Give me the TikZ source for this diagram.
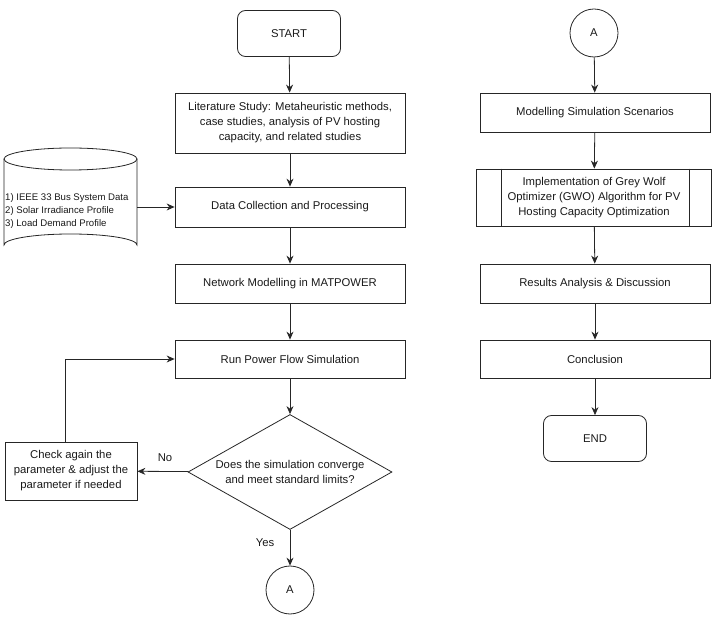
\documentclass[tikz,border=0pt]{standalone}
\usepackage{fontspec}
\setmainfont{Liberation Sans}
\usetikzlibrary{arrows.meta,shapes.geometric}
\begin{document}
\begin{tikzpicture}[x=1pt,y=-1pt,
  every node/.style={font=\fontsize{11.3}{15}\selectfont, text=black!90},
  box/.style={draw=black!85, line width=0.8pt, rectangle, minimum width=230pt, align=center, inner sep=0pt},
  term/.style={draw=black!85, line width=0.8pt, rectangle, rounded corners=8pt, minimum width=103pt, minimum height=46pt},
  conn/.style={draw=black!85, line width=0.8pt, circle, minimum size=48pt, inner sep=0pt},
  arr/.style={draw=black!85, line width=0.8pt, -{Stealth[length=8pt,width=7pt]}},
  lbl/.style={font=\fontsize{11.3}{13}\selectfont}]
\useasboundingbox (0,0) rectangle (716,628);
% left column
\node[term] (start) at (289,33.5) {START};
\node[box, minimum height=60pt] (lit) at (290,123) {Literature Study: Metaheuristic methods,\\case studies, analysis of PV hosting\\capacity, and related studies};
\node[box, minimum height=40pt] (data) at (290,207) {Data Collection and Processing};
\node[box, minimum height=39pt] (net) at (290,283.5) {Network Modelling in MATPOWER};
\node[box, minimum height=38pt] (run) at (290,359) {Run Power Flow Simulation};
\node[diamond, draw=black!85, line width=0.8pt, aspect=1.77, minimum width=204pt, minimum height=115pt, inner sep=0pt, align=center] (dec) at (290,472) {Does the simulation converge\\and meet standard limits?};
\node[box, minimum width=132pt, minimum height=58pt] (chk) at (71,471) {Check again the\\parameter \& adjust the\\parameter if needed};
\node[conn] (a1) at (290,590) {A};
% cylinder
\node[minimum width=133.5pt, minimum height=108pt, inner sep=0pt] (db) at (70.5,202) {};
\draw[black!85, line width=0.8pt] (70.5,159) ellipse [x radius=66.5, y radius=11];
\draw[black!85, line width=0.8pt] (4,159) -- (4,245) arc[start angle=180, end angle=360, x radius=66.5, y radius=11] -- (137,159);
\node[anchor=west, align=left, font=\fontsize{9.6}{13}\selectfont, inner sep=0pt] (dbtxt) at (5,211) {1) IEEE 33 Bus System Data\\2) Solar Irradiance Profile\\3) Load Demand Profile};
% right column
\node[conn] (a2) at (594,33) {A};
\node[box, minimum height=39pt] (mod) at (595,112.5) {Modelling Simulation Scenarios};
\node[box, minimum width=235pt, minimum height=57pt] (gwo) at (594,197.5) {Implementation of Grey Wolf\\Optimizer (GWO) Algorithm for PV\\Hosting Capacity Optimization};
\draw[black!85, line width=0.8pt] ([xshift=25pt]gwo.north west) -- ([xshift=25pt]gwo.south west);
\draw[black!85, line width=0.8pt] ([xshift=-23pt]gwo.north east) -- ([xshift=-23pt]gwo.south east);
\node[box, minimum height=39pt] (res) at (595,283.5) {Results Analysis \& Discussion};
\node[box, minimum height=38pt] (con) at (595,359) {Conclusion};
\node[term] (end) at (595,438.5) {END};
% connectors
\draw[arr] (start) -- (lit);
\draw[arr] (lit) -- (data);
\draw[arr] (data) -- (net);
\draw[arr] (net) -- (run);
\draw[arr] (run) -- (dec);
\draw[arr] (dec) -- (chk);
\draw[arr] (dec) -- (a1);
\draw[arr] (chk.north -| 65,0) |- (run.west);
\draw[arr] (db.east |- data.west) -- (data.west);
\draw[arr] (a2) -- (mod);
\draw[arr] (mod) -- (gwo);
\draw[arr] (gwo) -- (res);
\draw[arr] (res) -- (con);
\draw[arr] (con) -- (end);
\node[lbl] (no) at (165,458) {No};
\node[lbl] (yes) at (265,543) {Yes};
\end{tikzpicture}
\end{document}
